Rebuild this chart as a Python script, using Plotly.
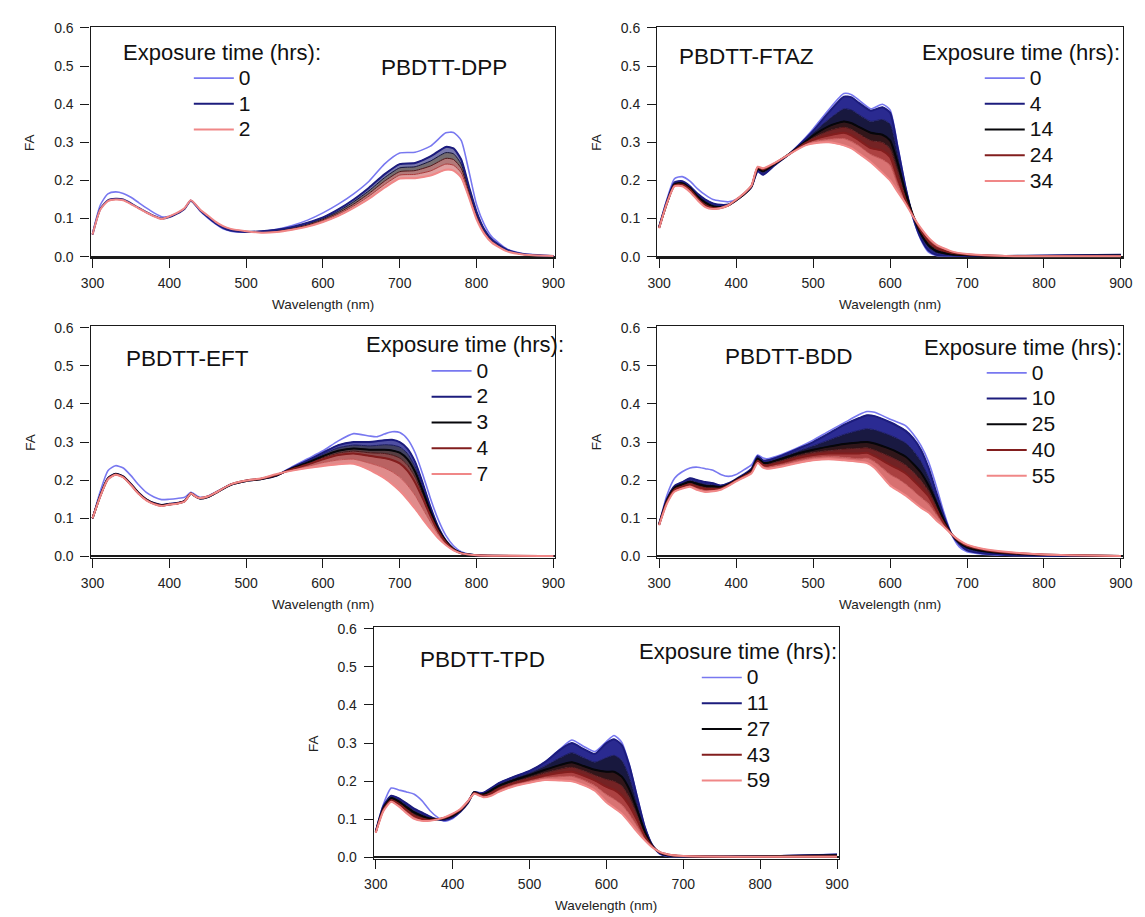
import plotly.graph_objects as go

FIG_W, FIG_H = 1145, 917

# ======================= DATA =======================
# ---- PBDTT-DPP ----
dpp_wl = [300, 310, 320, 330, 340, 350, 360, 370, 380, 390, 400, 410, 420, 428, 440, 450, 460, 470, 480, 500,
          520, 540, 560, 580, 600, 620, 640, 660, 680, 700, 720, 740, 760, 770, 780, 790, 800, 810, 820, 840,
          860, 900]
dpp_0h = [.060, .135, .165, .170, .166, .156, .142, .128, .115, .105, .106, .114, .127, .148, .120, .102, .086, .073, .067, .064,
          .066, .072, .082, .096, .115, .138, .165, .198, .243, .272, .274, .290, .325, .326, .305, .225, .137, .085, .052, .020,
          .008, .002]
dpp_1h = [.058, .125, .148, .152, .150, .140, .128, .117, .107, .100, .104, .113, .126, .147, .122, .104, .088, .076, .069, .065,
          .067, .071, .078, .089, .103, .124, .150, .181, .216, .243, .246, .263, .288, .284, .255, .185, .118, .072, .045, .018,
          .007, .002]
dpp_1h15 = [.058, .124, .147, .151, .149, .139, .128, .117, .107, .100, .105, .113, .126, .147, .123, .105, .089, .077, .070, .066,
            .066, .069, .076, .086, .100, .119, .144, .173, .207, .233, .236, .251, .273, .270, .243, .178, .113, .069, .043, .017,
            .007, .002]
dpp_1h30 = [.058, .124, .147, .151, .149, .139, .127, .116, .107, .099, .105, .114, .127, .148, .123, .106, .090, .078, .071, .066,
            .065, .067, .074, .083, .097, .115, .138, .166, .198, .223, .226, .238, .258, .255, .232, .170, .108, .066, .041, .016,
            .006, .002]
dpp_1h45 = [.058, .123, .146, .150, .148, .139, .127, .116, .106, .099, .106, .114, .127, .148, .124, .107, .091, .079, .072, .067,
            .064, .066, .072, .081, .094, .111, .133, .159, .189, .214, .216, .225, .243, .240, .220, .163, .103, .063, .039, .015,
            .006, .002]
dpp_2h = [.058, .123, .146, .150, .148, .138, .127, .116, .106, .099, .106, .115, .128, .148, .124, .108, .092, .080, .073, .067,
          .063, .065, .071, .079, .091, .107, .128, .152, .181, .205, .206, .213, .228, .226, .208, .156, .098, .060, .037, .014,
          .006, .002]
dpp_legend_hours = [0, 1, 2]

# ---- PBDTT-FTAZ ----
ftaz_wl = [300, 310, 320, 330, 340, 350, 360, 370, 380, 390, 400, 410, 420, 428, 435, 450, 470, 490, 500, 520,
           540, 550, 560, 575, 590, 600, 610, 620, 630, 640, 650, 660, 680, 700, 750, 800, 900]
ftaz_0h = [.080, .150, .205, .210, .198, .178, .162, .150, .146, .144, .150, .165, .185, .222, .215, .240, .272, .312, .335, .385,
           .428, .425, .410, .388, .400, .385, .290, .185, .100, .045, .012, .003, .002, .002, .002, .003, .005]
ftaz_4h = [.078, .145, .195, .198, .185, .165, .150, .140, .136, .137, .148, .163, .183, .225, .215, .240, .271, .309, .330, .378,
           .420, .418, .403, .383, .392, .378, .285, .183, .103, .048, .016, .005, .003, .002, .002, .003, .005]
ftaz_9h = [.078, .142, .192, .195, .182, .162, .146, .136, .133, .136, .148, .163, .184, .227, .220, .241, .271, .306, .325, .360,
           .388, .385, .372, .355, .360, .348, .270, .180, .106, .054, .024, .010, .004, .003, .002, .002, .004]
ftaz_14h = [.077, .140, .190, .193, .180, .158, .142, .132, .130, .135, .148, .163, .185, .230, .224, .243, .271, .302, .318, .342,
            .355, .350, .340, .325, .320, .305, .245, .170, .108, .060, .030, .015, .006, .004, .002, .002, .003]
ftaz_19h = [.076, .140, .188, .191, .178, .155, .138, .130, .129, .135, .148, .164, .185, .232, .227, .244, .270, .300, .312, .330,
            .340, .334, .322, .305, .300, .283, .225, .160, .108, .064, .036, .019, .008, .005, .002, .002, .003]
ftaz_24h = [.076, .140, .187, .189, .176, .152, .135, .128, .128, .135, .149, .165, .186, .234, .229, .245, .270, .298, .307, .318,
            .325, .318, .305, .285, .278, .262, .205, .150, .107, .068, .041, .024, .010, .006, .002, .002, .002]
ftaz_29h = [.075, .140, .186, .187, .173, .150, .132, .126, .128, .135, .149, .165, .186, .235, .231, .245, .270, .295, .302, .308,
            .310, .302, .290, .268, .255, .240, .188, .145, .106, .072, .046, .028, .012, .006, .002, .002, .002]
ftaz_34h = [.075, .140, .185, .185, .170, .148, .130, .125, .128, .135, .150, .166, .187, .236, .232, .246, .270, .292, .297, .300,
            .292, .284, .270, .248, .220, .200, .170, .140, .105, .075, .050, .032, .014, .007, .002, .001, .001]
ftaz_legend_hours = [0, 4, 14, 24, 34]

# ---- PBDTT-EFT ----
eft_wl = [300, 310, 320, 330, 340, 350, 360, 370, 380, 390, 400, 410, 420, 428, 435, 440, 450, 460, 480, 500,
          520, 540, 560, 580, 600, 620, 640, 660, 670, 680, 690, 700, 710, 720, 730, 740, 750, 760, 770, 780,
          800, 900]
eft_0h = [.100, .170, .225, .238, .232, .212, .188, .168, .156, .149, .150, .152, .155, .168, .160, .155, .158, .168, .189, .199,
          .204, .213, .235, .256, .277, .303, .322, .316, .314, .321, .327, .325, .308, .272, .215, .152, .097, .055, .028, .012,
          .003, .001]
eft_2h = [.100, .160, .205, .217, .210, .190, .167, .150, .140, .135, .138, .140, .146, .165, .156, .152, .156, .166, .188, .198,
          .203, .212, .233, .252, .272, .292, .300, .300, .302, .305, .306, .300, .283, .248, .192, .130, .078, .042, .020, .009,
          .003, .001]
eft_2h30 = [.100, .160, .204, .216, .209, .189, .166, .149, .140, .135, .138, .140, .146, .165, .156, .152, .156, .166, .188, .198,
            .203, .212, .232, .249, .268, .285, .292, .290, .291, .293, .292, .287, .270, .235, .182, .124, .075, .041, .020, .009,
            .003, .001]
eft_3h = [.100, .159, .204, .216, .209, .189, .166, .149, .139, .134, .137, .139, .145, .165, .156, .152, .156, .166, .188, .198,
          .203, .213, .231, .246, .263, .277, .283, .280, .280, .280, .278, .272, .255, .222, .172, .118, .072, .040, .019, .009,
          .003, .001]
eft_3h30 = [.100, .159, .203, .215, .208, .188, .165, .148, .139, .134, .137, .139, .145, .165, .156, .152, .156, .166, .188, .198,
            .204, .213, .230, .243, .259, .271, .276, .272, .271, .270, .266, .258, .240, .208, .162, .112, .069, .038, .019, .008,
            .003, .001]
eft_4h = [.100, .158, .203, .215, .208, .188, .165, .148, .138, .133, .136, .139, .145, .165, .156, .153, .157, .167, .189, .199,
          .204, .214, .229, .241, .255, .266, .270, .264, .261, .258, .253, .244, .225, .194, .152, .106, .066, .037, .018, .008,
          .003, .001]
eft_5h30 = [.100, .158, .202, .214, .207, .187, .164, .147, .138, .133, .136, .138, .144, .165, .156, .153, .157, .167, .189, .199,
            .204, .215, .227, .236, .246, .253, .255, .245, .239, .232, .222, .208, .187, .160, .125, .090, .058, .033, .017, .008,
            .003, .001]
eft_7h = [.100, .157, .202, .214, .207, .187, .164, .147, .137, .132, .136, .138, .144, .165, .156, .153, .157, .167, .189, .199,
          .205, .216, .225, .232, .237, .242, .243, .228, .217, .205, .190, .172, .150, .125, .098, .072, .048, .030, .016, .008,
          .003, .001]
eft_legend_hours = [0, 2, 3, 4, 7]

# ---- PBDTT-BDD ----
bdd_wl = [300, 310, 320, 330, 340, 350, 360, 370, 380, 390, 400, 410, 420, 428, 435, 440, 460, 480, 500, 520,
          540, 560, 570, 580, 600, 610, 620, 630, 640, 650, 660, 670, 680, 690, 700, 720, 750, 800, 900]
bdd_0h = [.085, .160, .205, .222, .232, .234, .230, .226, .215, .210, .215, .227, .240, .266, .258, .256, .268, .285, .305, .328,
          .350, .372, .380, .378, .360, .352, .343, .321, .291, .248, .185, .115, .058, .025, .012, .006, .003, .002, .001]
bdd_10h = [.085, .150, .185, .195, .205, .200, .195, .192, .186, .192, .203, .215, .230, .263, .252, .252, .265, .282, .300, .322,
           .345, .363, .370, .368, .352, .342, .330, .310, .280, .232, .168, .106, .058, .032, .016, .008, .004, .002, .001]
bdd_17h = [.084, .148, .182, .192, .200, .195, .190, .188, .184, .190, .202, .214, .228, .260, .249, .249, .261, .276, .290, .305,
           .320, .331, .335, .332, .318, .309, .298, .278, .250, .208, .155, .100, .058, .034, .020, .011, .006, .003, .001]
bdd_25h = [.084, .146, .180, .189, .196, .190, .185, .184, .182, .189, .201, .212, .226, .257, .246, .245, .257, .270, .280, .288,
           .295, .299, .300, .296, .282, .273, .262, .243, .220, .186, .142, .095, .058, .036, .024, .014, .008, .004, .001]
bdd_32h = [.083, .144, .177, .186, .192, .186, .181, .180, .180, .188, .200, .211, .224, .254, .243, .242, .252, .264, .273, .278,
           .282, .284, .285, .279, .262, .252, .240, .222, .200, .172, .132, .091, .058, .038, .026, .016, .009, .004, .001]
bdd_40h = [.083, .142, .175, .183, .189, .182, .177, .177, .178, .187, .199, .210, .222, .251, .240, .238, .247, .258, .266, .270,
           .270, .270, .272, .263, .240, .230, .218, .200, .180, .158, .122, .087, .058, .040, .028, .018, .010, .005, .001]
bdd_47h = [.082, .140, .172, .180, .186, .178, .173, .174, .176, .186, .198, .208, .220, .248, .236, .234, .241, .251, .259, .262,
           .260, .256, .258, .248, .215, .204, .190, .173, .155, .138, .110, .083, .058, .041, .030, .019, .011, .005, .001]
bdd_55h = [.082, .138, .170, .178, .183, .174, .169, .171, .175, .185, .197, .207, .218, .245, .233, .230, .236, .245, .252, .255,
           .252, .248, .245, .232, .186, .173, .160, .144, .128, .115, .095, .078, .058, .042, .031, .020, .012, .005, .001]
bdd_legend_hours = [0, 10, 25, 40, 55]

# ---- PBDTT-TPD ----
tpd_wl = [300, 310, 320, 330, 340, 350, 360, 370, 380, 390, 400, 410, 420, 428, 435, 440, 450, 460, 480, 500,
          520, 540, 555, 570, 585, 600, 610, 620, 630, 640, 650, 660, 670, 680, 700, 800, 900]
tpd_0h = [.070, .140, .182, .177, .172, .166, .149, .124, .106, .095, .102, .122, .148, .172, .170, .170, .180, .195, .212, .226,
          .250, .285, .308, .292, .278, .304, .320, .302, .242, .160, .080, .030, .008, .003, .002, .003, .008]
tpd_11h = [.068, .135, .162, .155, .142, .128, .118, .108, .100, .098, .105, .120, .143, .172, .168, .170, .182, .195, .212, .227,
           .250, .283, .300, .285, .272, .300, .310, .295, .240, .158, .080, .032, .010, .004, .003, .003, .008]
tpd_19h = [.068, .132, .159, .151, .137, .123, .113, .105, .100, .100, .107, .121, .144, .172, .167, .168, .179, .192, .208, .222,
           .240, .262, .275, .262, .250, .262, .268, .255, .210, .142, .074, .031, .011, .005, .003, .003, .007]
tpd_27h = [.067, .130, .156, .147, .132, .118, .109, .102, .100, .102, .109, .123, .145, .171, .166, .166, .176, .188, .203, .216,
           .230, .243, .250, .240, .230, .225, .225, .212, .178, .125, .068, .030, .012, .006, .003, .003, .006]
tpd_35h = [.067, .128, .153, .143, .128, .113, .105, .100, .100, .103, .111, .124, .146, .170, .165, .164, .172, .184, .199, .210,
           .222, .232, .237, .228, .216, .205, .200, .188, .157, .112, .062, .029, .013, .007, .004, .002, .004]
tpd_43h = [.066, .126, .150, .140, .124, .109, .101, .098, .100, .104, .113, .125, .147, .169, .164, .162, .168, .180, .195, .205,
           .215, .222, .225, .215, .202, .185, .177, .162, .135, .098, .056, .028, .013, .008, .004, .002, .003]
tpd_51h = [.066, .124, .148, .137, .120, .105, .098, .097, .100, .105, .114, .126, .148, .168, .163, .160, .165, .176, .191, .200,
           .209, .212, .213, .203, .188, .165, .153, .138, .113, .082, .050, .027, .014, .008, .004, .002, .002]
tpd_59h = [.065, .122, .146, .134, .116, .101, .096, .096, .100, .106, .115, .127, .148, .167, .162, .158, .162, .172, .187, .196,
           .203, .202, .200, .190, .175, .145, .130, .115, .092, .067, .045, .026, .014, .008, .004, .002, .002]
tpd_legend_hours = [0, 11, 27, 43, 59]

x_ticks = [300, 400, 500, 600, 700, 800, 900]
y_ticks = [0.0, 0.1, 0.2, 0.3, 0.4, 0.5, 0.6]

# ======================= STYLE / LAYOUT =======================
FONT = "Liberation Sans, Arial, sans-serif"

LINE_STOPS = [(0.0, (120, 120, 240)), (0.25, (28, 28, 125)), (0.5, (6, 6, 10)),
              (0.75, (130, 30, 30)), (1.0, (240, 135, 135))]
FILL_STOPS = [(0.0, (120, 120, 240)), (0.25, (44, 44, 182)), (0.5, (8, 8, 14)),
              (0.75, (145, 34, 34)), (1.0, (240, 135, 135))]


def cmap(p, stops=LINE_STOPS):
    p = max(0.0, min(1.0, p))
    for (p0, c0), (p1, c1) in zip(stops[:-1], stops[1:]):
        if p <= p1:
            f = (p - p0) / (p1 - p0) if p1 > p0 else 0
            return tuple(int(round(a + (b - a) * f)) for a, b in zip(c0, c1))
    return stops[-1][1]


def color_pos(t, legend_hours):
    n = len(legend_hours)
    pos = [0.0, 0.25, 1.0] if n == 3 else [0.0, 0.25, 0.5, 0.75, 1.0]
    for i in range(n - 1):
        a, b = legend_hours[i], legend_hours[i + 1]
        if t <= b:
            f = (t - a) / (b - a)
            return pos[i] + (pos[i + 1] - pos[i]) * f
    return 1.0


def rgb(c, a=1.0):
    return f"rgba({c[0]},{c[1]},{c[2]},{a})"


def px2x(px):
    return px / FIG_W


def px2y(py):
    return 1 - py / FIG_H


panels = [
    dict(title="PBDTT-DPP", wl=dpp_wl, legend_hours=dpp_legend_hours,
         curves=[(0, dpp_0h), (1, dpp_1h), (1.25, dpp_1h15), (1.5, dpp_1h30), (1.75, dpp_1h45), (2, dpp_2h)],
         xdom=(82.05, 554.95), y0=253.3, fill_alpha=0.6,
         title_pos=(376, 61), head_pos=(113, 45.7), leg_pos=(182, 54)),
    dict(title="PBDTT-FTAZ", wl=ftaz_wl, legend_hours=ftaz_legend_hours,
         curves=[(0, ftaz_0h), (4, ftaz_4h), (9, ftaz_9h), (14, ftaz_14h), (19, ftaz_19h),
                 (24, ftaz_24h), (29, ftaz_29h), (34, ftaz_34h)],
         xdom=(658.74, 1132.66), y0=253.3, fill_alpha=0.97,
         title_pos=(678.6, 50), head_pos=(926, 45.7), leg_pos=(987, 54)),
    dict(title="PBDTT-EFT", wl=eft_wl, legend_hours=eft_legend_hours,
         curves=[(0, eft_0h), (2, eft_2h), (2.5, eft_2h30), (3, eft_3h), (3.5, eft_3h30),
                 (4, eft_4h), (5.5, eft_5h30), (7, eft_7h)],
         xdom=(82.05, 554.95), y0=557.3, fill_alpha=0.8,
         title_pos=(116, 356.7), head_pos=(360, 342.3), leg_pos=(424, 351)),
    dict(title="PBDTT-BDD", wl=bdd_wl, legend_hours=bdd_legend_hours,
         curves=[(0, bdd_0h), (10, bdd_10h), (17, bdd_17h), (25, bdd_25h), (32, bdd_32h),
                 (40, bdd_40h), (47, bdd_47h), (55, bdd_55h)],
         xdom=(658.74, 1132.66), y0=557.3, fill_alpha=0.97,
         title_pos=(726, 354.3), head_pos=(928, 345.7), leg_pos=(989, 353)),
    dict(title="PBDTT-TPD", wl=tpd_wl, legend_hours=tpd_legend_hours,
         curves=[(0, tpd_0h), (11, tpd_11h), (19, tpd_19h), (27, tpd_27h), (35, tpd_35h),
                 (43, tpd_43h), (51, tpd_51h), (59, tpd_59h)],
         xdom=(370.34, 843.66), y0=862.7, fill_alpha=0.97,
         title_pos=(415.7, 661.7), head_pos=(638, 653.3), leg_pos=(699, 662)),
]

PX_PER_UNIT = 232 / 0.6
Y_RANGE = [-0.004, 0.6036]
X_RANGE = [297.5, 902.5]

fig = go.Figure()
annotations = []
layout = {}

for i, p in enumerate(panels, start=1):
    xa = "x" if i == 1 else f"x{i}"
    ya = "y" if i == 1 else f"y{i}"
    lg = "legend" if i == 1 else f"legend{i}"
    lh = p["legend_hours"]
    wl = p["wl"]

    # t = 0 curve
    t0, c0 = p["curves"][0]
    fig.add_trace(go.Scatter(x=wl, y=c0, mode="lines", xaxis=xa, yaxis=ya, legend=lg,
                             name=f"<span style='font-size:21px'>{t0}</span>",
                             line=dict(color=rgb(cmap(0.0)), width=1.6, shape="spline", smoothing=0.6),
                             showlegend=True, hoverinfo="skip"))
    # degraded band: consecutive spectra, the gap between them shaded with their mean colour
    prev_pos = None
    for k, (t, c) in enumerate(p["curves"][1:]):
        pos = color_pos(t, lh)
        col = cmap(pos, FILL_STOPS)
        fcol = cmap(pos if prev_pos is None else 0.5 * (pos + prev_pos), FILL_STOPS)
        fig.add_trace(go.Scatter(x=wl, y=c, mode="lines", xaxis=xa, yaxis=ya, legend=lg,
                                 line=dict(color=rgb(col), width=1.0, shape="spline", smoothing=0.6),
                                 fill=None if k == 0 else "tonexty",
                                 fillcolor=rgb(fcol, p["fill_alpha"]),
                                 showlegend=False, hoverinfo="skip"))
        prev_pos = pos
    # legend-time spectra drawn as lines (legend entries)
    for t, c in p["curves"][1:]:
        if t in lh:
            col = cmap(color_pos(t, lh))
            fig.add_trace(go.Scatter(x=wl, y=c, mode="lines", xaxis=xa, yaxis=ya, legend=lg,
                                     name=f"<span style='font-size:21px'>{t}</span>",
                                     line=dict(color=rgb(col), width=2.0, shape="spline", smoothing=0.6),
                                     showlegend=True, hoverinfo="skip"))

    x0, x1 = p["xdom"]
    ybot = p["y0"] + (-Y_RANGE[0]) * PX_PER_UNIT
    ytop = p["y0"] - Y_RANGE[1] * PX_PER_UNIT
    axis_common = dict(showline=True, linecolor="#1a1a1a", linewidth=1.4, mirror=True,
                       ticks="outside", ticklen=9, tickwidth=1.4, tickcolor="#1a1a1a",
                       showgrid=False, tickfont=dict(family=FONT, size=14, color="#222"))
    layout["xaxis" if i == 1 else f"xaxis{i}"] = dict(
        domain=[px2x(x0), px2x(x1)], range=X_RANGE, anchor=ya, tickvals=x_ticks,
        zeroline=False, ticklabelstandoff=3, **axis_common)
    layout["yaxis" if i == 1 else f"yaxis{i}"] = dict(
        domain=[px2y(ybot), px2y(ytop)], range=Y_RANGE, anchor=xa, tickvals=y_ticks,
        tickformat=".1f", zeroline=True, zerolinecolor="#1a1a1a", zerolinewidth=2.2,
        ticklabelstandoff=4, **axis_common)

    lx, ly = p["leg_pos"]
    layout[lg] = dict(x=px2x(lx), y=px2y(ly), xanchor="left", yanchor="top",
                      bgcolor="rgba(0,0,0,0)", borderwidth=0, itemwidth=40,
                      traceorder="normal",
                      font=dict(family=FONT, size=17.5, color="#111"),
                      tracegroupgap=0, itemclick=False, itemdoubleclick=False)

    tx, ty = p["title_pos"]
    annotations.append(dict(text=p["title"], x=px2x(tx), y=px2y(ty), xref="paper", yref="paper",
                            xanchor="left", yanchor="middle", showarrow=False,
                            font=dict(family=FONT, size=22.5, color="#111")))
    hx, hy = p["head_pos"]
    annotations.append(dict(text="Exposure time (hrs):", x=px2x(hx), y=px2y(hy), xref="paper", yref="paper",
                            xanchor="left", yanchor="middle", showarrow=False,
                            font=dict(family=FONT, size=22, color="#111")))
    # axis titles
    annotations.append(dict(text="FA", x=px2x(x0 - 62), y=px2y(p["y0"] - 0.3 * PX_PER_UNIT),
                            xref="paper", yref="paper", xanchor="center", yanchor="middle",
                            textangle=-90, showarrow=False,
                            font=dict(family=FONT, size=13.5, color="#222")))
    annotations.append(dict(text="Wavelength (nm)", x=px2x((x0 + x1) / 2), y=px2y(p["y0"] + 48.4),
                            xref="paper", yref="paper", xanchor="center", yanchor="middle",
                            showarrow=False, font=dict(family=FONT, size=13.5, color="#222")))

fig.update_layout(
    width=FIG_W, height=FIG_H, margin=dict(l=0, r=0, t=0, b=0),
    paper_bgcolor="white", plot_bgcolor="white",
    annotations=annotations, hovermode=False, **layout)

fig.write_html("out.html", config={"displayModeBar": False})
